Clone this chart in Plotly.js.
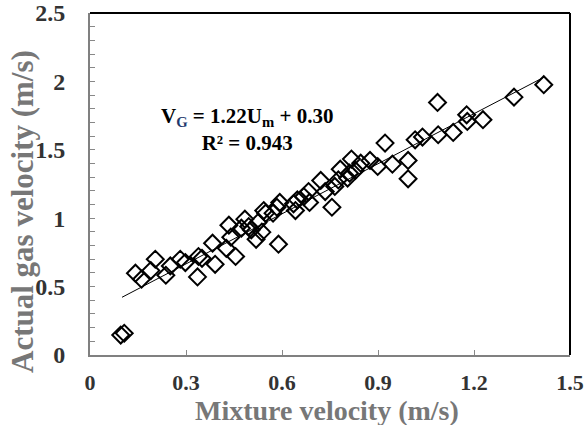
<!DOCTYPE html>
<html>
<head>
<meta charset="utf-8">
<script src="https://cdn.plot.ly/plotly-3.0.1.min.js"></script>
<style>html,body{margin:0;padding:0;background:#fff;}#chart{width:586px;height:425px;}</style>
</head>
<body>
<div id="chart"></div>
<script>
// Mixture velocity (m/s)
const mixtureVelocity = [0.096, 0.107, 0.142, 0.161, 0.19, 0.204, 0.237, 0.251, 0.282, 0.298,
  0.336, 0.339, 0.350, 0.383, 0.391, 0.426, 0.434, 0.44, 0.455, 0.473,
  0.484, 0.496, 0.504, 0.519, 0.525, 0.537, 0.543, 0.549, 0.572, 0.584,
  0.593, 0.589, 0.636, 0.642, 0.648, 0.668, 0.683, 0.686, 0.721, 0.735,
  0.756, 0.765, 0.776, 0.782, 0.805, 0.811, 0.817, 0.829, 0.846, 0.875,
  0.899, 0.922, 0.945, 0.994, 0.994, 1.016, 1.039, 1.086, 1.088, 1.135,
  1.177, 1.179, 1.228, 1.325, 1.418];
// Actual gas velocity (m/s)
const gasVelocity = [0.146, 0.159, 0.598, 0.554, 0.617, 0.70, 0.583, 0.651, 0.70, 0.676,
  0.571, 0.72, 0.707, 0.817, 0.663, 0.78, 0.949, 0.861, 0.72, 0.927,
  0.993, 0.939, 0.915, 0.846, 0.968, 0.898, 1.056, 1.037, 1.037, 1.08,
  1.115, 0.81, 1.105, 1.056, 1.134, 1.158, 1.195, 1.115, 1.276, 1.195,
  1.08, 1.232, 1.28, 1.358, 1.293, 1.329, 1.432, 1.349, 1.402, 1.422,
  1.378, 1.549, 1.395, 1.422, 1.288, 1.573, 1.593, 1.846, 1.61, 1.627,
  1.756, 1.707, 1.72, 1.885, 1.976];
// Linear fit: VG = 1.22 Um + 0.30
const fitSlope = 1.22;
const fitIntercept = 0.30;
const fitRange = [0.1, 1.42];
const xTicks = [0, 0.3, 0.6, 0.9, 1.2, 1.5];
const xTickLabels = ['0', '0.3', '0.6', '0.9', '1.2', '1.5'];
const yTicks = [0, 0.5, 1, 1.5, 2, 2.5];
const yTickLabels = ['0', '0.5', '1', '1.5', '2', '2.5'];
const xTitle = 'Mixture velocity (m/s)';
const yTitle = 'Actual gas velocity (m/s)';

const fitY = fitRange.map(x => fitSlope * x + fitIntercept);
const serif = 'Liberation Serif, Times New Roman, serif';

const traces = [
  {
    x: fitRange, y: fitY, type: 'scatter', mode: 'lines',
    line: {color: '#000', width: 1}, hoverinfo: 'skip'
  },
  {
    x: mixtureVelocity, y: gasVelocity, type: 'scatter', mode: 'markers',
    marker: {symbol: 'diamond-open', size: 13, color: '#000', line: {width: 2, color: '#000'}}
  }
];

const layout = {
  width: 586, height: 425,
  margin: {l: 90, r: 16, t: 13, b: 70},
  paper_bgcolor: '#fff', plot_bgcolor: '#fff',
  showlegend: false,
  font: {family: serif},
  xaxis: {
    range: [0, 1.5], tickvals: xTicks, ticktext: xTickLabels,
    ticks: 'inside', ticklen: 5, tickcolor: '#888', tickwidth: 1,
    ticklabelstandoff: 7,
    showgrid: false, zeroline: false,
    showline: true, linecolor: '#808080', linewidth: 2, mirror: false,
    tickfont: {family: serif, size: 22, color: '#333', weight: 'bold'}
  },
  yaxis: {
    range: [0, 2.5], tickvals: yTicks, ticktext: yTickLabels,
    ticks: 'inside', ticklen: 5, tickcolor: '#888', tickwidth: 1,
    ticklabelstandoff: 18,
    minor: {dtick: 0.1, ticks: 'inside', ticklen: 5, tickcolor: '#888', tickwidth: 1, showgrid: false},
    showgrid: false, zeroline: false,
    showline: true, linecolor: '#808080', linewidth: 2, mirror: false,
    tickfont: {family: serif, size: 24, color: '#333', weight: 'bold'}
  },
  shapes: [
    {type: 'line', xref: 'paper', yref: 'paper', x0: 0, x1: 1, y0: 1, y1: 1, line: {color: '#000', width: 2}},
    {type: 'line', xref: 'paper', yref: 'paper', x0: 1, x1: 1, y0: 0, y1: 1, line: {color: '#000', width: 2}}
  ],
  annotations: [
    {
      x: 0.49, y: 1.645, xref: 'x', yref: 'y', showarrow: false, align: 'center',
      text: '<b>V<sub><span style="color:#1f3a6e">G</span></sub> = 1.22U<sub>m</sub> + 0.30</b><br><b>R² = 0.943</b>',
      font: {family: serif, size: 21, color: '#000'}
    },
    {
      x: 0.494, y: -0.163, xref: 'paper', yref: 'paper', xanchor: 'center', yanchor: 'middle',
      showarrow: false, text: '<b>' + xTitle + '</b>',
      font: {family: serif, size: 28, color: '#777'}
    },
    {
      x: -0.1417, y: 0.421, xref: 'paper', yref: 'paper', xanchor: 'center', yanchor: 'middle',
      showarrow: false, textangle: -90, text: '<b>' + yTitle + '</b>',
      font: {family: serif, size: 31, color: '#777'}
    }
  ]
};

Plotly.newPlot('chart', traces, layout, {displayModeBar: false, staticPlot: true});
</script>
</body>
</html>
